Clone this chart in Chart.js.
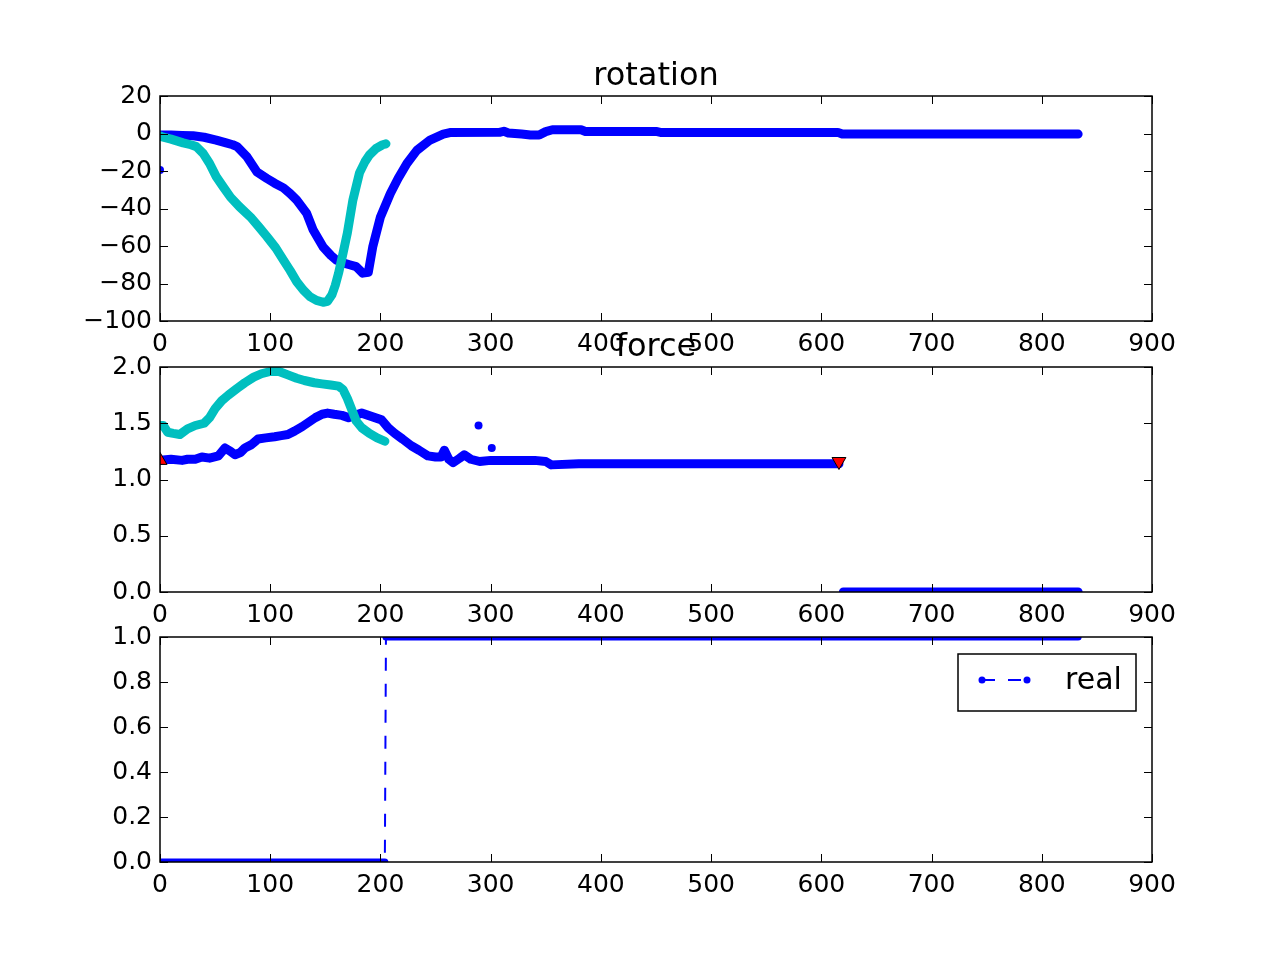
<!DOCTYPE html>
<html>
<head>
<meta charset="utf-8">
<script src="https://cdn.jsdelivr.net/npm/chart.js@4.4.0/dist/chart.umd.min.js"></script>
<style>
  html, body { margin: 0; padding: 0; background: #fff; }
  #wrap { position: relative; width: 1280px; height: 960px; overflow: hidden; background: #fff; }
  canvas { position: absolute; left: 0; }
</style>
</head>
<body>
<div id="wrap">
  <canvas id="rotChart" width="1280" height="370" style="top:0px"></canvas>
  <canvas id="forceChart" width="1280" height="310" style="top:330px"></canvas>
  <canvas id="realChart" width="1280" height="310" style="top:600px"></canvas>
</div>
<script>
// tick labels
const xTicks = [0, 100, 200, 300, 400, 500, 600, 700, 800, 900];
const rotTicks = [-100, -80, -60, -40, -20, 0, 20];
const forceTicks = [0, 0.5, 1.0, 1.5, 2.0];
const realTicks = [0, 0.2, 0.4, 0.6, 0.8, 1.0];

// rotation, blue track
const rotBlueX = [1, 10, 20, 30, 40, 51, 60, 66, 70, 79, 88, 97, 104, 112, 118, 124, 133, 139, 148, 155, 160, 166, 172, 178, 184, 189,
                  193, 200, 209, 216, 224, 233, 245, 257, 263, 308, 312, 316, 328, 336, 344, 350, 356, 382, 386, 450, 454, 615, 619, 833];
const rotBlueY = [-0.8, -0.8, -1, -1.2, -2, -3.5, -5, -6, -7, -12.5, -20.5, -24, -26.5, -29, -32, -35.5, -42.5, -51.5, -60.5, -65, -67.5, -69, -70, -71, -74.5, -74,
                  -60.5, -44.5, -32, -24, -16, -9, -3.5, -0.3, 0.5, 0.6, 1.2, 0.3, -0.3, -0.8, -0.8, 1, 2, 2, 1.1, 1.1, 0.6, 0.6, -0.3, -0.3];
const rotOutX = [0];
const rotOutY = [-19.5];

// rotation, cyan track
const rotCyanX = [0, 2, 10, 21, 28, 33, 39, 45, 51, 58, 64, 72, 82, 90, 97, 105, 112, 118, 124, 130, 136, 142, 148, 152,
                  156, 159, 162, 166, 170, 175, 181, 186, 190, 196, 202, 205];
const rotCyanY = [-1.3, -1.8, -3, -5, -6, -7, -10.5, -16, -23, -29, -34, -39, -44.5, -50, -55, -61, -67.5, -73, -79, -83.5, -87, -89, -90, -89.5,
                  -86, -81, -74.5, -64, -53, -35.5, -21, -15, -11.5, -8, -6, -5.5];

// force, blue track
const forceBlueX = [0, 10, 20, 25, 32, 38, 45, 53, 59, 64, 68, 73, 77, 83, 89, 96, 104, 110, 116, 122, 129, 135, 141, 147, 152, 158, 165, 171,
                    177, 183, 189, 195, 201, 207, 213, 220, 228, 235, 243, 250, 255, 258, 262, 266, 272, 276, 282, 290, 300, 320, 340, 350, 355, 380, 616];
const forceBlueY = [1.17, 1.18, 1.17, 1.18, 1.18, 1.2, 1.19, 1.21, 1.28, 1.25, 1.22, 1.24, 1.28, 1.31, 1.36, 1.37, 1.38, 1.39, 1.40, 1.43, 1.47, 1.51, 1.55, 1.58, 1.59, 1.58, 1.57, 1.55,
                    1.57, 1.59, 1.57, 1.55, 1.53, 1.46, 1.41, 1.36, 1.30, 1.26, 1.21, 1.20, 1.20, 1.26, 1.18, 1.15, 1.19, 1.22, 1.18, 1.16, 1.17, 1.17, 1.17, 1.16, 1.13, 1.14, 1.14];
const forceTailX = [620, 833];
const forceTailY = [0, 0];
const forceOutX = [289, 301];
const forceOutY = [1.48, 1.28];

// force, cyan track
const forceCyanX = [0, 3, 7, 12, 18, 25, 32, 40, 45, 50, 56, 62, 70, 77, 85, 92, 100, 108, 116, 124, 131, 140, 147, 155, 162,
                    166, 170, 174, 178, 183, 190, 197, 204];
const forceCyanY = [1.48, 1.48, 1.42, 1.41, 1.40, 1.45, 1.48, 1.5, 1.55, 1.63, 1.70, 1.75, 1.81, 1.86, 1.91, 1.94, 1.96, 1.96, 1.93, 1.90, 1.88, 1.86, 1.85, 1.84, 1.83,
                    1.80, 1.72, 1.62, 1.52, 1.46, 1.41, 1.37, 1.34];

// event markers on force
const markUpX = [0];
const markUpY = [1.17];
const markDownX = [616];
const markDownY = [1.16];

// real
const realX = [0, 204, 205, 833];
const realY = [0, 0, 1, 1];

const BLUE = '#0000ff';
const CYAN = '#00bfbf';
const FONT = '"DejaVu Sans", sans-serif';

function pts(xs, ys) {
    return xs.map((x, i) => ({ x: x, y: ys[i] }));
}

function lineSet(xs, ys, color, width, order) {
    return {
        data: pts(xs, ys),
        showLine: true,
        borderColor: color,
        backgroundColor: color,
        borderWidth: width,
        borderCapStyle: 'round',
        borderJoinStyle: 'round',
        pointRadius: 0,
        clip: 0,
        order: order
    };
}

function dotSet(xs, ys, color, radius, order) {
    return {
        data: pts(xs, ys),
        showLine: false,
        pointRadius: radius,
        pointBackgroundColor: color,
        pointBorderWidth: 0,
        clip: 0,
        order: order
    };
}

// frame, inward ticks on all four sides, and title
const framePlugin = {
    id: 'frame',
    afterDatasetsDraw(chart, args, opts) {
        const ctx = chart.ctx;
        const a = chart.chartArea;
        const xs = chart.scales.x, ys = chart.scales.y;
        ctx.save();
        ctx.strokeStyle = '#000';
        ctx.lineWidth = 1;
        ctx.beginPath();
        xs.ticks.forEach(t => {
            const px = Math.round(xs.getPixelForValue(t.value)) + 0.5;
            ctx.moveTo(px, a.bottom); ctx.lineTo(px, a.bottom - 8);
            ctx.moveTo(px, a.top); ctx.lineTo(px, a.top + 8);
        });
        ys.ticks.forEach(t => {
            const py = Math.round(ys.getPixelForValue(t.value)) + 0.5;
            ctx.moveTo(a.left, py); ctx.lineTo(a.left + 8, py);
            ctx.moveTo(a.right, py); ctx.lineTo(a.right - 8, py);
        });
        ctx.stroke();
        ctx.lineWidth = 1.5;
        ctx.strokeRect(a.left, a.top, a.right - a.left, a.bottom - a.top);
        if (opts.title) {
            ctx.fillStyle = '#000';
            ctx.font = '32px ' + FONT;
            ctx.textAlign = 'center';
            ctx.textBaseline = 'alphabetic';
            ctx.fillText(opts.title, (a.left + a.right) / 2, a.top - 11);
        }
        ctx.restore();
    }
};

// matplotlib style legend box for the bottom panel
const legendPlugin = {
    id: 'realLegend',
    afterDraw(chart) {
        const ctx = chart.ctx;
        const a = chart.chartArea;
        const ds = chart.data.datasets[0];
        const x0 = a.right - 194, y0 = a.top + 17, w = 178, h = 57;
        const cy = y0 + 26;
        ctx.save();
        ctx.fillStyle = '#fff';
        ctx.fillRect(x0, y0, w, h);
        ctx.strokeStyle = '#000';
        ctx.lineWidth = 1.5;
        ctx.strokeRect(x0, y0, w, h);
        ctx.strokeStyle = ds.borderColor;
        ctx.lineWidth = 2;
        ctx.setLineDash([13, 13]);
        ctx.beginPath();
        ctx.moveTo(x0 + 24, cy); ctx.lineTo(x0 + 69, cy);
        ctx.stroke();
        ctx.setLineDash([]);
        ctx.fillStyle = ds.borderColor;
        [x0 + 24, x0 + 69].forEach(px => {
            ctx.beginPath(); ctx.arc(px, cy, 3.5, 0, Math.PI * 2); ctx.fill();
        });
        ctx.fillStyle = '#000';
        ctx.font = '30px ' + FONT;
        ctx.textAlign = 'left';
        ctx.textBaseline = 'middle';
        ctx.fillText(ds.label, x0 + 107, cy + 1);
        ctx.restore();
    }
};

function fmtRot(v) {
    return v < 0 ? '\u2212' + Math.abs(v) : String(v);
}
function fmtDec(v) {
    return Number(v).toFixed(1);
}

function makeOptions(yMin, yMax, yTickList, yFmt, padTop, padBottom, title) {
    const tickFont = { family: FONT, size: 25 };
    return {
        responsive: false,
        animation: false,
        devicePixelRatio: 1,
        events: [],
        layout: { padding: { left: 0, right: 128, top: padTop, bottom: padBottom } },
        plugins: {
            legend: { display: false },
            tooltip: { enabled: false },
            frame: { title: title }
        },
        scales: {
            x: {
                type: 'linear',
                min: 0,
                max: 900,
                grid: { display: false, drawTicks: false },
                border: { display: false },
                afterBuildTicks: s => { s.ticks = xTicks.map(v => ({ value: v })); },
                afterFit: s => { s.height = 45; },
                ticks: {
                    color: '#000', font: tickFont, padding: 8,
                    autoSkip: false, maxRotation: 0,
                    callback: v => String(v)
                }
            },
            y: {
                type: 'linear',
                min: yMin,
                max: yMax,
                grid: { display: false, drawTicks: false },
                border: { display: false },
                afterBuildTicks: s => { s.ticks = yTickList.map(v => ({ value: v })); },
                afterFit: s => { s.width = 160; },
                ticks: {
                    color: '#000', font: tickFont, padding: 8,
                    autoSkip: false,
                    callback: yFmt
                }
            }
        }
    };
}

window.onload = function() {
    new Chart(document.getElementById('rotChart'), {
        type: 'scatter',
        data: {
            datasets: [
                lineSet(rotCyanX, rotCyanY, CYAN, 9, 0),
                lineSet(rotBlueX, rotBlueY, BLUE, 9, 1),
                dotSet(rotOutX, rotOutY, BLUE, 4, 1)
            ]
        },
        options: makeOptions(-100, 20, rotTicks, fmtRot, 96, 4, 'rotation'),
        plugins: [framePlugin]
    });

    const up = dotSet(markUpX, markUpY, 'red', 8, -1);
    up.pointStyle = 'triangle';
    up.pointBorderColor = '#000';
    up.pointBorderWidth = 1;
    const down = dotSet(markDownX, markDownY, 'red', 8, -1);
    down.pointStyle = 'triangle';
    down.pointRotation = 180;
    down.pointBorderColor = '#000';
    down.pointBorderWidth = 1;

    new Chart(document.getElementById('forceChart'), {
        type: 'scatter',
        data: {
            datasets: [
                up,
                down,
                lineSet(forceCyanX, forceCyanY, CYAN, 9, 0),
                lineSet(forceBlueX, forceBlueY, BLUE, 9, 1),
                lineSet(forceTailX, forceTailY, BLUE, 9, 1),
                dotSet(forceOutX, forceOutY, BLUE, 4, 1)
            ]
        },
        options: makeOptions(0, 2, forceTicks, fmtDec, 37, 3, 'force'),
        plugins: [framePlugin]
    });

    const realLine = lineSet(realX, realY, BLUE, 2, 0);
    realLine.label = 'real';
    realLine.borderCapStyle = 'butt';
    realLine.borderDash = [13, 13];
    const realBand = lineSet(realX, realY, BLUE, 7, 1);
    // only the flat runs are covered by the dense dot markers
    realBand.segment = {
        borderColor: c => c.p0.parsed.y === c.p1.parsed.y ? BLUE : 'rgba(0,0,0,0)'
    };

    new Chart(document.getElementById('realChart'), {
        type: 'scatter',
        data: { datasets: [realLine, realBand] },
        options: makeOptions(0, 1, realTicks, fmtDec, 37, 3, ''),
        plugins: [framePlugin, legendPlugin]
    });
};
</script>
</body>
</html>
